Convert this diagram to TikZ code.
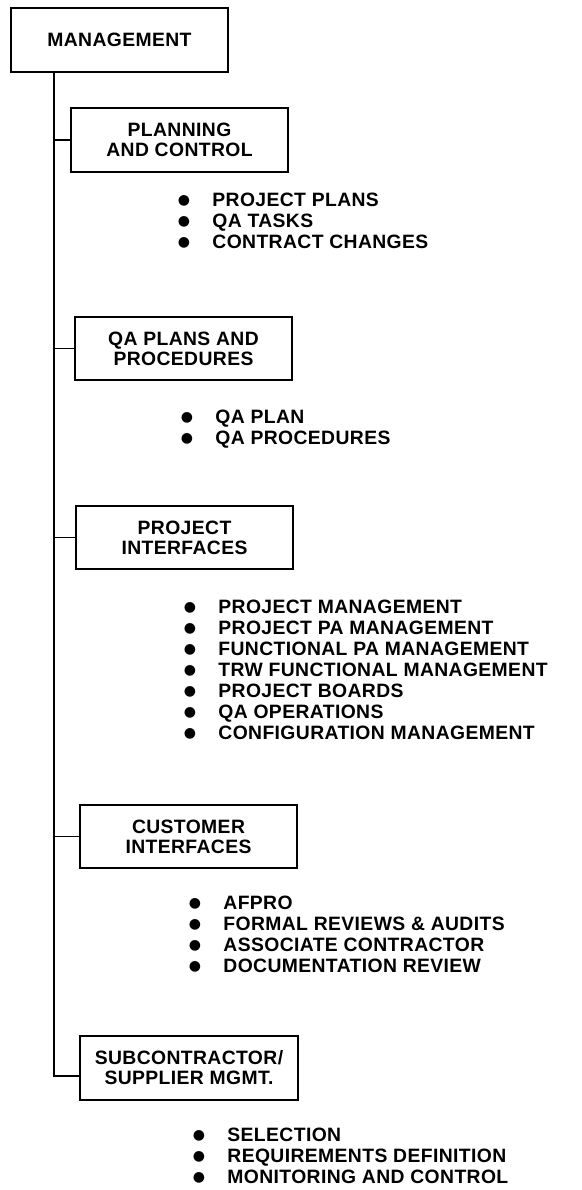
\documentclass[tikz,border=0pt]{standalone}
\usepackage{fontspec}
\setmainfont{Liberation Sans}[LetterSpace=2]
\newfontfamily\dotfont{DejaVu Sans}
\usepackage{tikz}

\newcommand{\dotitem}{\makebox[26pt][l]{\raisebox{0.12em}{\dotfont\fontsize{10.5}{10}\selectfont ●}}}

\tikzset{
  unitbox/.style={draw, line width=1.6pt, minimum width=163pt, minimum height=47.5pt,
    align=center, inner sep=0pt, font=\bfseries\fontsize{14.5}{15}\selectfont},
  itemlist/.style={anchor=north west, align=left, inner sep=0pt,
    font=\bfseries\fontsize{14.5}{15.75}\selectfont},
  link/.style={line width=1.4pt}
}

\begin{document}
\begin{tikzpicture}[x=0.75pt, y=-0.75pt]
			\useasboundingbox (0,0) rectangle (582,1190);
			% boxes
			\node[unitbox] (mgmt) at (119.5,40){MANAGEMENT};
			\node[unitbox] (plan) at (179.5,140){PLANNING\\AND CONTROL};
			\node[unitbox] (qa) at (183.5,348.5){QA PLANS AND\\PROCEDURES};
			\node[unitbox] (proj) at (184.5,537.5){PROJECT\\INTERFACES};
			\node[unitbox] (cust) at (188.5,836.5){CUSTOMER\\INTERFACES};
			\node[unitbox] (sub) at (189,1068){SUBCONTRACTOR/\\SUPPLIER MGMT.};
			% item lists
			\node[itemlist] (planlist) at (177.5,193){\dotitem PROJECT PLANS\\\dotitem QA TASKS\\\dotitem CONTRACT CHANGES};
			\node[itemlist] (qalist) at (180.5,410){\dotitem QA PLAN\\\dotitem QA PROCEDURES};
			\node[itemlist] (projlist) at (183.5,600){\dotitem PROJECT MANAGEMENT\\\dotitem PROJECT PA MANAGEMENT\\\dotitem FUNCTIONAL PA MANAGEMENT\\\dotitem TRW FUNCTIONAL MANAGEMENT\\\dotitem PROJECT BOARDS\\\dotitem QA OPERATIONS\\\dotitem CONFIGURATION MANAGEMENT};
			\node[itemlist] (custlist) at (188.5,896){\dotitem AFPRO\\\dotitem FORMAL REVIEWS \& AUDITS\\\dotitem ASSOCIATE CONTRACTOR\\\dotitem DOCUMENTATION REVIEW};
			\node[itemlist] (sublist) at (192.5,1128){\dotitem SELECTION\\\dotitem REQUIREMENTS DEFINITION\\\dotitem MONITORING AND CONTROL};
			% trunk and branches
			\coordinate (top) at ([xshift=33pt]mgmt.south west);
			\coordinate (subin) at ([yshift=-6pt]sub.west);
			\draw[link] (top) |- (subin);
			\foreach \n in {plan,qa,proj,cust}
				\draw[link] (top |- \n.west) -- (\n.west);
		\end{tikzpicture}
\end{document}
